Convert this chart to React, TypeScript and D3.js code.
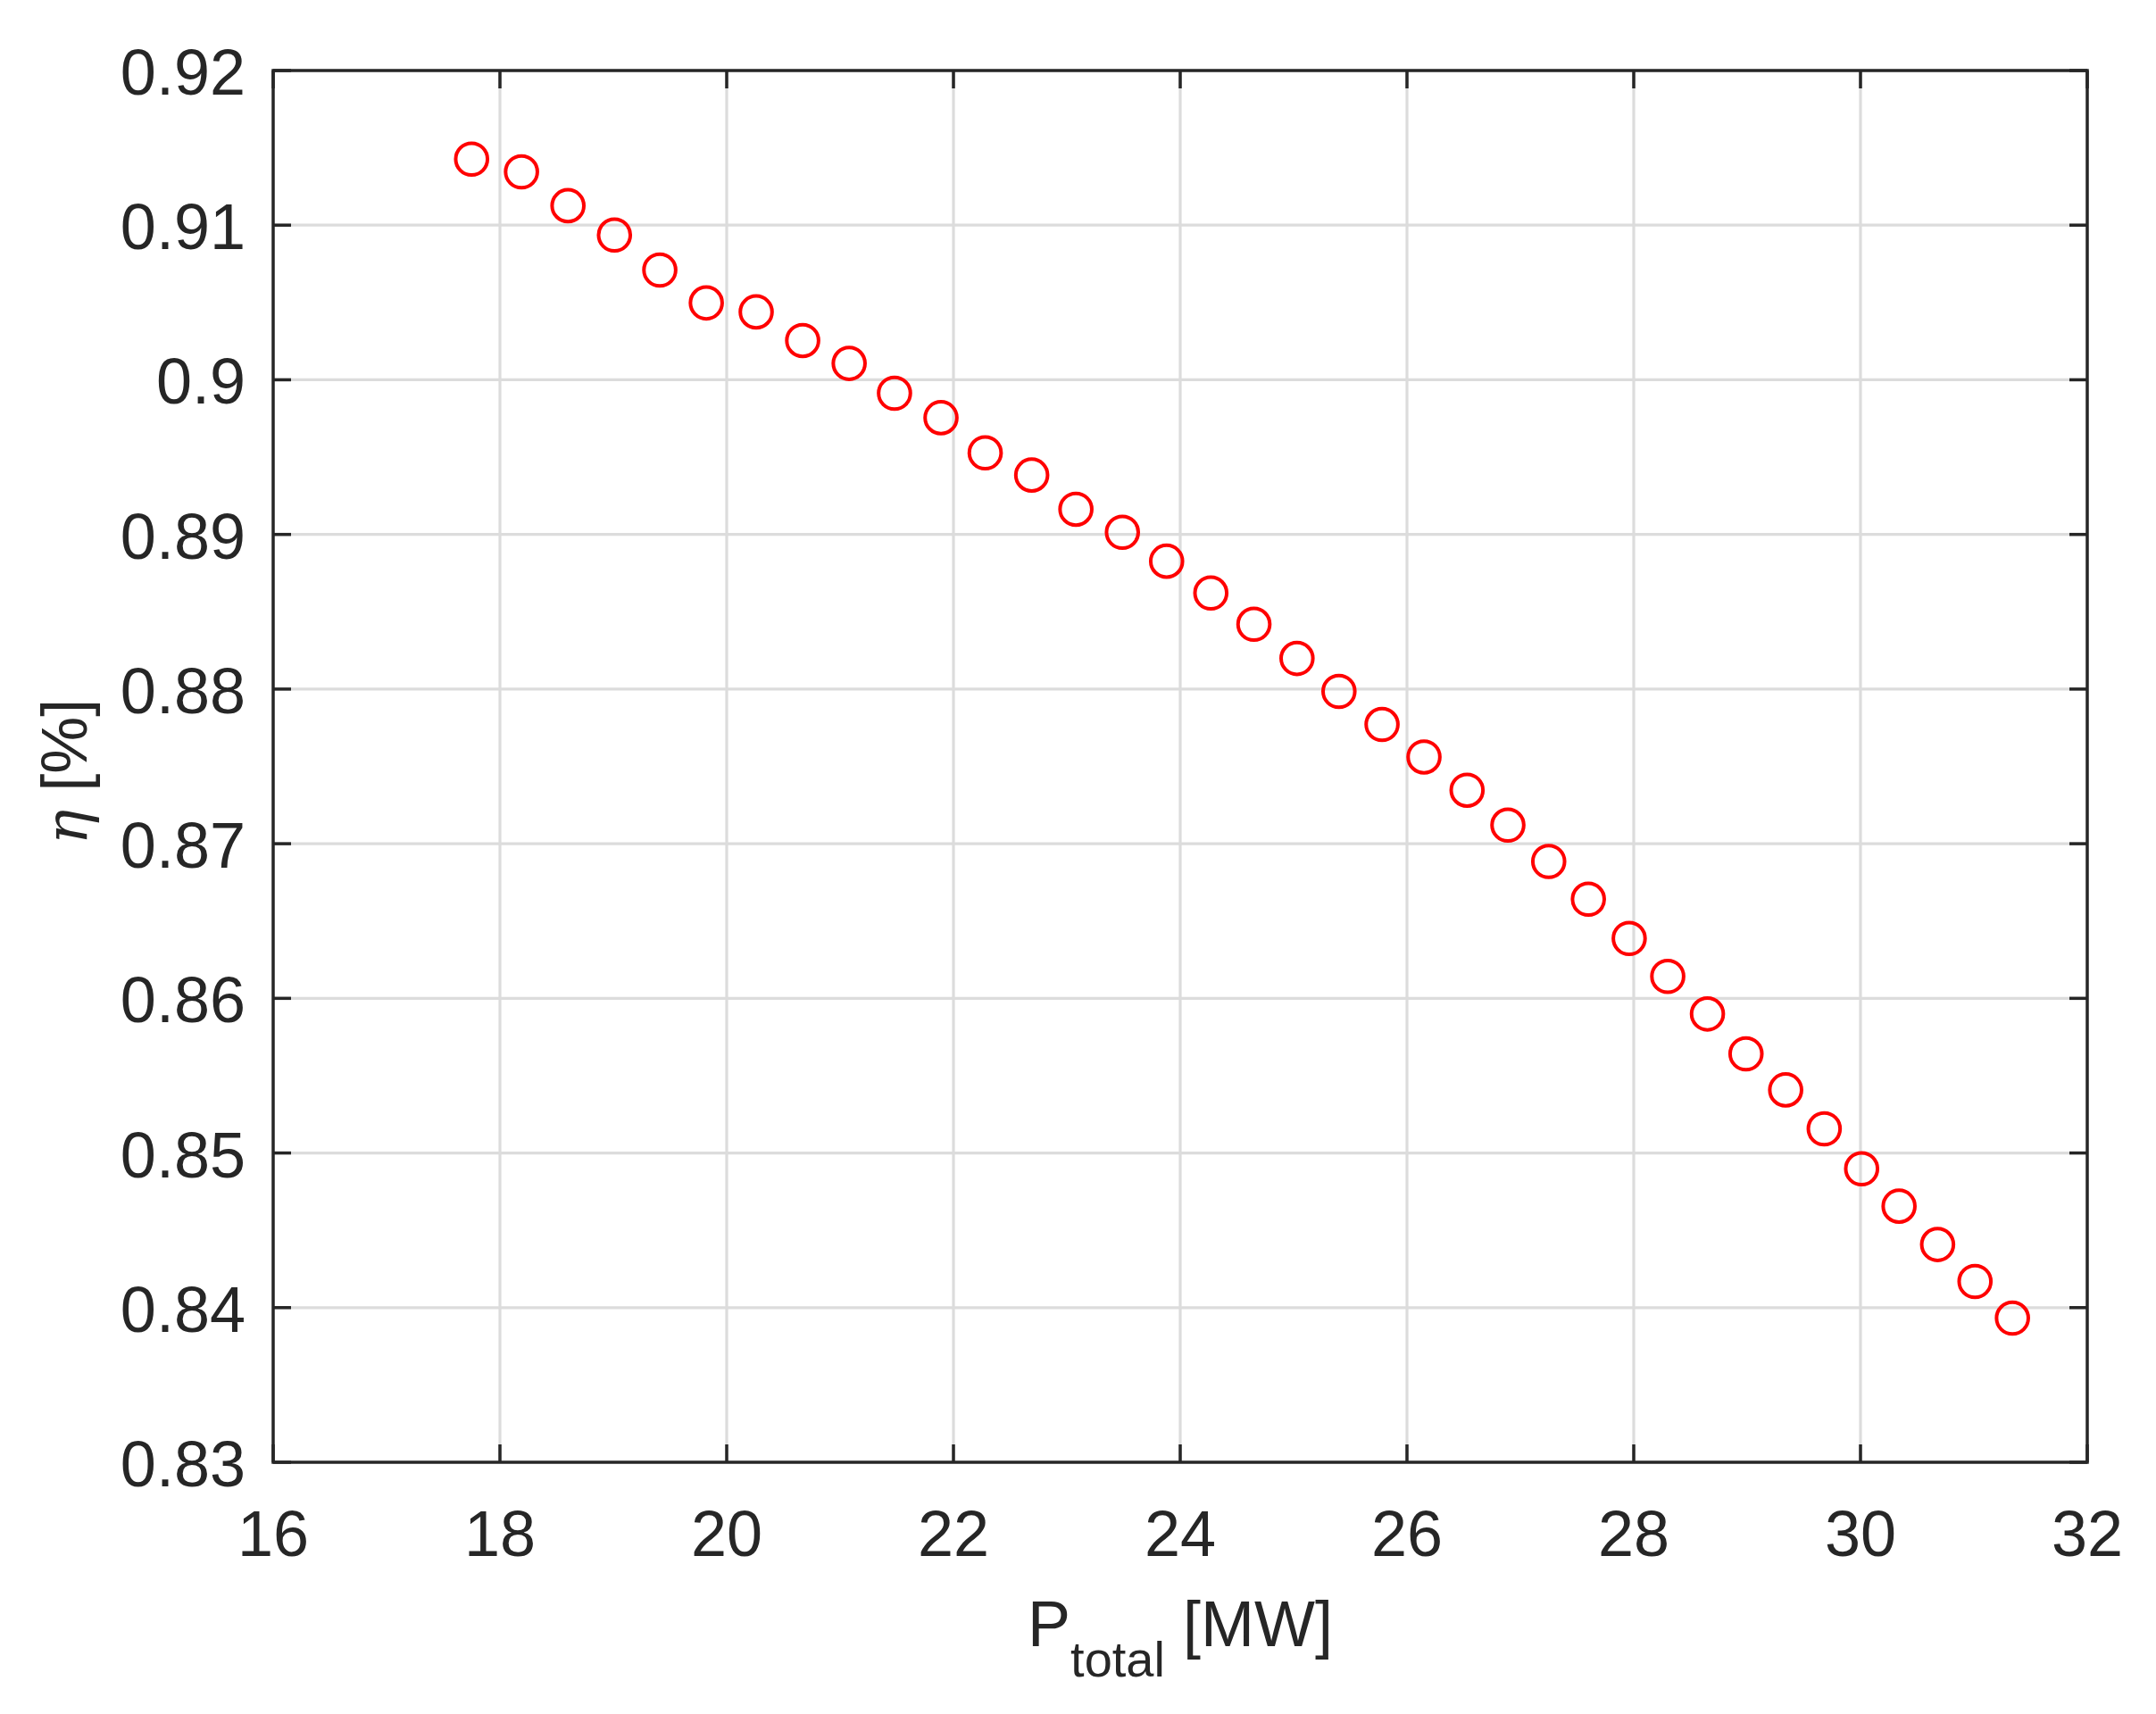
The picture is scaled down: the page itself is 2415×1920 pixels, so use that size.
import React, { useEffect, useRef } from 'react';
import * as d3 from 'd3';

// Measured operating points: total power [MW] vs efficiency
const pTotal = [
  17.75, 18.19, 18.6, 19.01, 19.41, 19.82, 20.26, 20.67, 21.08, 21.48,
  21.89, 22.28, 22.69, 23.08, 23.49, 23.88, 24.27, 24.65, 25.03, 25.4,
  25.78, 26.15, 26.53, 26.89, 27.25, 27.6, 27.96, 28.3, 28.65, 28.99,
  29.34, 29.68, 30.01, 30.34, 30.68, 31.01, 31.34,
];
const eta = [
  0.91427, 0.91345, 0.91126, 0.90936, 0.9071, 0.90497, 0.90439, 0.90254, 0.90106, 0.89913,
  0.89755, 0.89528, 0.89384, 0.89163, 0.89014, 0.88827, 0.88621, 0.88419, 0.88198, 0.87985,
  0.87771, 0.87561, 0.87346, 0.8712, 0.86885, 0.86641, 0.86387, 0.86142, 0.85899, 0.85641,
  0.85408, 0.85156, 0.84898, 0.84656, 0.84408, 0.84169, 0.83932,
];

const xTicks = [16, 18, 20, 22, 24, 26, 28, 30, 32];
const yTicks = [0.83, 0.84, 0.85, 0.86, 0.87, 0.88, 0.89, 0.9, 0.91, 0.92];

export const EfficiencyChart: React.FC = () => {
  const svgRef = useRef<SVGSVGElement>(null);

  useEffect(() => {
    if (!svgRef.current) return;

    // Clear previous content
    d3.select(svgRef.current).selectAll('*').remove();

    const width = 2415;
    const height = 1920;
    const margin = { top: 79, right: 77, bottom: 282, left: 306 };
    const innerW = width - margin.left - margin.right;
    const innerH = height - margin.top - margin.bottom;
    const ink = '#262626';
    const font = "'Liberation Sans', Arial, Helvetica, sans-serif";

    const svg = d3.select(svgRef.current);

    svg.append('rect').attr('width', width).attr('height', height).attr('fill', '#fff');

    const g = svg
      .append('g')
      .attr('transform', `translate(${margin.left},${margin.top})`);

    // Scales
    const xScale = d3.scaleLinear().domain([16, 32]).range([0, innerW]);
    const yScale = d3.scaleLinear().domain([0.83, 0.92]).range([innerH, 0]);

    // Grid
    g.selectAll('.vgrid')
      .data(xTicks.slice(1, -1))
      .enter()
      .append('line')
      .attr('x1', (d) => xScale(d))
      .attr('x2', (d) => xScale(d))
      .attr('y1', 0)
      .attr('y2', innerH)
      .attr('stroke', '#dcdcdc')
      .attr('stroke-width', 3.2);

    g.selectAll('.hgrid')
      .data(yTicks.slice(1, -1))
      .enter()
      .append('line')
      .attr('x1', 0)
      .attr('x2', innerW)
      .attr('y1', (d) => yScale(d))
      .attr('y2', (d) => yScale(d))
      .attr('stroke', '#dcdcdc')
      .attr('stroke-width', 3.2);

    // Data markers
    const pts = pTotal.map((p, i) => ({ p, e: eta[i] }));
    g.selectAll('.pt')
      .data(pts)
      .enter()
      .append('circle')
      .attr('cx', (d) => xScale(d.p))
      .attr('cy', (d) => yScale(d.e))
      .attr('r', 17.8)
      .attr('fill', 'none')
      .attr('stroke', '#ff0000')
      .attr('stroke-width', 4);

    // Ticks (inside, on all four sides)
    const tickLen = 20;
    const tickW = 3.5;
    xTicks.forEach((t) => {
      g.append('line')
        .attr('x1', xScale(t)).attr('x2', xScale(t))
        .attr('y1', innerH).attr('y2', innerH - tickLen)
        .attr('stroke', ink).attr('stroke-width', tickW);
      g.append('line')
        .attr('x1', xScale(t)).attr('x2', xScale(t))
        .attr('y1', 0).attr('y2', tickLen)
        .attr('stroke', ink).attr('stroke-width', tickW);
    });
    yTicks.forEach((t) => {
      g.append('line')
        .attr('x1', 0).attr('x2', tickLen)
        .attr('y1', yScale(t)).attr('y2', yScale(t))
        .attr('stroke', ink).attr('stroke-width', tickW);
      g.append('line')
        .attr('x1', innerW).attr('x2', innerW - tickLen)
        .attr('y1', yScale(t)).attr('y2', yScale(t))
        .attr('stroke', ink).attr('stroke-width', tickW);
    });

    // Axes box
    g.append('rect')
      .attr('x', 0)
      .attr('y', 0)
      .attr('width', innerW)
      .attr('height', innerH)
      .attr('fill', 'none')
      .attr('stroke', ink)
      .attr('stroke-width', 3.5);

    // Tick labels
    g.selectAll('.xlab')
      .data(xTicks)
      .enter()
      .append('text')
      .attr('x', (d) => xScale(d))
      .attr('y', innerH + 105)
      .attr('text-anchor', 'middle')
      .attr('fill', ink)
      .attr('font-family', font)
      .attr('font-size', '72px')
      .text((d) => String(d));

    g.selectAll('.ylab')
      .data(yTicks)
      .enter()
      .append('text')
      .attr('x', -31)
      .attr('y', (d) => yScale(d) + 27)
      .attr('text-anchor', 'end')
      .attr('fill', ink)
      .attr('font-family', font)
      .attr('font-size', '72px')
      .text((d) => String(d));

    // X axis label: P_total [MW]
    const xl = svg
      .append('text')
      .attr('x', margin.left + innerW / 2)
      .attr('y', 1844)
      .attr('text-anchor', 'middle')
      .attr('fill', ink)
      .attr('font-family', font)
      .attr('font-size', '72px');
    xl.append('tspan').text('P');
    xl.append('tspan').attr('font-size', '56px').attr('dy', 34).text('total');
    xl.append('tspan').attr('dy', -34).text(' [MW]');

    // Y axis label: eta [%]
    const yl = svg
      .append('text')
      .attr('transform', `translate(97,${margin.top + innerH / 2 + 6}) rotate(-90)`)
      .attr('text-anchor', 'middle')
      .attr('fill', ink)
      .attr('font-family', font)
      .attr('font-size', '72px');
    yl.append('tspan')
      .attr('font-style', 'italic')
      .attr('font-family', "'DejaVu Serif', serif")
      .attr('font-size', '66px')
      .text('η');
    yl.append('tspan').text(' [%]');
  }, []);

  return (
    <svg
      ref={svgRef}
      width={2415}
      height={1920}
      style={{ position: 'absolute', left: 0, top: 0, display: 'block' }}
    />
  );
};

export default function App() {
  return <EfficiencyChart />;
}
